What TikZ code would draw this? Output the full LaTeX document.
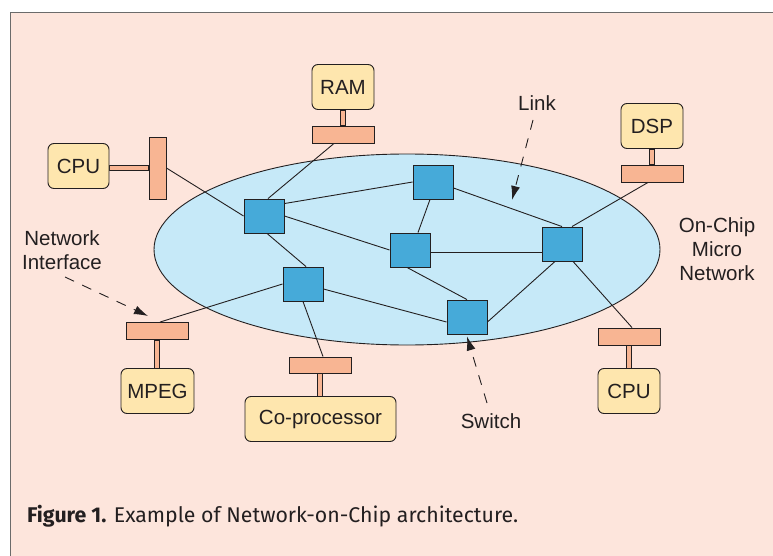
\documentclass[tikz,border=0pt]{standalone}
\usepackage{fontspec}
\setmainfont{Liberation Sans}
\newfontfamily\capfont{Fira Sans}
\usetikzlibrary{arrows.meta}
\definecolor{pagebg}{HTML}{FDE5DC}
\definecolor{framec}{HTML}{6B6B6B}
\definecolor{linec}{HTML}{231F20}
\definecolor{netc}{HTML}{C6E9F8}
\definecolor{switchc}{HTML}{46AAD9}
\definecolor{nic}{HTML}{F8B593}
\definecolor{ipc}{HTML}{FEE6AE}
\pgfdeclarelayer{bg}
\pgfdeclarelayer{wires}
\pgfsetlayers{bg,wires,main}
\begin{document}
\begin{tikzpicture}[x=1pt,y=-1pt,
  switchbox/.style={draw=linec, fill=switchc, minimum width=40pt, minimum height=34pt, inner sep=0pt, line width=0.9pt},
  ipbox/.style={draw=linec, fill=ipc, rounded corners=6pt, minimum height=45pt, inner sep=0pt, line width=0.9pt, text=linec, font=\fontsize{20.5}{24}\selectfont},
  nibar/.style={draw=linec, fill=nic, inner sep=0pt, line width=0.9pt, minimum width=62pt, minimum height=17pt},
  stemrect/.style={draw=linec, fill=nic, line width=0.8pt},
  wire/.style={draw=linec, line width=0.9pt},
  pointer/.style={draw=linec, line width=0.9pt, dash pattern=on 10pt off 9pt, -{Latex[length=14pt,width=9pt]}},
  lbl/.style={font=\fontsize{20.5}{24}\selectfont, text=linec, align=center, inner sep=0pt}]
\useasboundingbox (0,0) rectangle (773,556);

% IP blocks and their network interfaces
\node[ipbox, minimum width=62pt] (ram) at (343,87) {RAM};
\node[nibar] (ramni) at (343,134.5) {};
\node[ipbox, minimum width=61pt] (cpuA) at (78.5,166) {CPU};
\node[nibar, minimum width=17pt, minimum height=62pt] (cpuAni) at (157.5,168) {};
\node[ipbox, minimum width=62pt] (dsp) at (652,126) {DSP};
\node[nibar] (dspni) at (652,173.5) {};
\node[ipbox, minimum width=73pt] (mpeg) at (157.5,391) {MPEG};
\node[nibar] (mpegni) at (157,331) {};
\node[ipbox, minimum width=151pt] (cop) at (320.5,419) {Co-processor};
\node[nibar, minimum height=16pt] (copni) at (320,365) {};
\node[ipbox, minimum width=62pt] (cpuB) at (629,391) {CPU};
\node[nibar] (cpuBni) at (629,336.5) {};

% switches
\node[switchbox] (A) at (264,216) {};
\node[switchbox] (B) at (433,182) {};
\node[switchbox] (C) at (410,250) {};
\node[switchbox] (D) at (562,244) {};
\node[switchbox] (E) at (303,284) {};
\node[switchbox] (F) at (467,317) {};

% labels
\node[lbl] (linklbl) at (537,103) {Link};
\node[lbl] (nilbl) at (62,250) {Network\\Interface};
\node[lbl] (onchip) at (717,249) {On-Chip\\Micro\\Network};
\node[lbl] (swlbl) at (491,421) {Switch};
\node[anchor=base west, inner sep=0pt, text=linec, font=\capfont\fontsize{21.3}{24}\selectfont] (caption) at (27,522)
  {\textbf{Figure 1.} Example of Network-on-Chip architecture.};

% pointer arrows
\coordinate (linkfrom) at (533,120);
\coordinate (linkto) at (512,200);
\coordinate (nifrom) at (65,277);
\coordinate (nito) at (148,316);
\coordinate (swfrom) at (487,403);
\draw[pointer] (linkfrom) -- (linkto);
\draw[pointer] (nifrom) -- (nito);
\draw[pointer] (swfrom) -- ([yshift=-2pt]F.south);

\begin{pgfonlayer}{bg}
  \fill[white] (0,0) rectangle (773,556);
  \fill[pagebg] (10,13) rectangle (773,556);
  \draw[framec, line width=1pt] (10,556) -- (10,13) -- (773,13);
  \draw[draw=linec, fill=netc, line width=0.9pt] (407,249.5) ellipse [x radius=253, y radius=95.5];
\end{pgfonlayer}

\begin{pgfonlayer}{wires}
  % links between switches
  \draw[wire] ([yshift=-5pt]A.north east) -- (B.west);
  \draw[wire] (A.east) -- (C.west);
  \draw[wire] ([xshift=3pt]A.south) -- ([xshift=3pt]E.north);
  \draw[wire] ([xshift=-3pt]B.south) -- ([xshift=8pt]C.north);
  \draw[wire] ([yshift=-6pt]B.east) -- (D.north);
  \draw[wire] ([yshift=-2pt]C.east) -- ([yshift=-2pt]C.east -| D.west);
  \draw[wire] ([xshift=-3pt]C.south) -- (F.north);
  \draw[wire] ([yshift=-5pt]E.east) -- ([yshift=-5pt]F.west);
  \draw[wire] ([yshift=-5pt]F.east) -- ([xshift=-7pt]D.south);
  % links from switches to network interfaces
  \draw[wire] (cpuAni.east) -- (A.west);
  \draw[wire] ([xshift=-9pt]ramni.south) -- ([xshift=4pt]A.north);
  \draw[wire] ([xshift=10pt]D.north) -- ([xshift=-4pt]dspni.south);
  \draw[wire] ([xshift=11pt]D.south) -- ([xshift=3pt]cpuBni.north);
  \draw[wire] (E.west) -- ([xshift=3pt]mpegni.north);
  \draw[wire] (E.south) -- ([xshift=3pt]copni.north);
  % stems joining blocks to interfaces
  \filldraw[stemrect] ([xshift=-2.5pt]ram.south) rectangle ([xshift=2.5pt]ramni.north);
  \filldraw[stemrect] ([yshift=2.5pt]cpuAni.west -| cpuA.east) rectangle ([yshift=-2.5pt]cpuAni.west);
  \filldraw[stemrect] ([xshift=-2.5pt]dsp.south) rectangle ([xshift=2.5pt]dspni.north);
  \filldraw[stemrect] ([xshift=-2.5pt]mpegni.south) rectangle ([xshift=2.5pt]mpegni.south |- mpeg.north);
  \filldraw[stemrect] ([xshift=-2.5pt]copni.south) rectangle ([xshift=2.5pt]copni.south |- cop.north);
  \filldraw[stemrect] ([xshift=-2.5pt]cpuBni.south) rectangle ([xshift=2.5pt]cpuBni.south |- cpuB.north);
\end{pgfonlayer}
\end{tikzpicture}
\end{document}
